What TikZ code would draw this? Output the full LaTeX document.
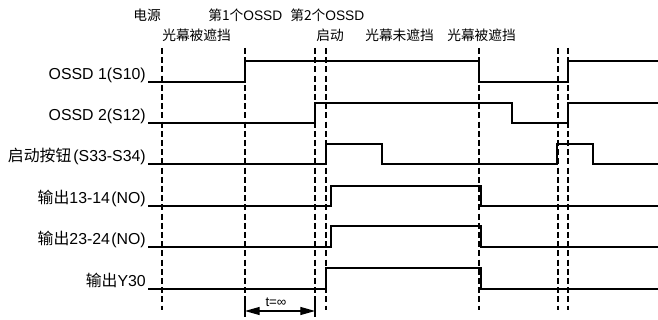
\documentclass[tikz,border=0pt]{standalone}
\usepackage{fontspec}
\setmainfont{Liberation Sans}
\newfontfamily\cjk{Noto Sans CJK SC}
\usetikzlibrary{arrows.meta}
\begin{document}
\begin{tikzpicture}[x=0.75pt,y=-0.75pt,
  sig/.style={line width=1.5pt, line join=miter},
  guide/.style={line width=0.9pt, dash pattern=on 4.5pt off 2.4pt},
  tick/.style={line width=0.9pt},
  lbl/.style={anchor=base east, inner sep=0pt, font=\fontsize{11.9}{12}\selectfont},
  toplbl/.style={anchor=west, inner sep=0pt, font=\fontsize{10.3}{11}\selectfont\cjk}]
\useasboundingbox (0,0) rectangle (658,320);

% top labels
\node[toplbl] (tA) at (133,15) {电源};
\node[toplbl] (tB) at (208,15) {第1个{\setmainfont{Liberation Sans}\rmfamily OSSD}};
\node[toplbl] (tC) at (290,15) {第2个{\setmainfont{Liberation Sans}\rmfamily OSSD}};
\node[toplbl] (tD) at (162,35) {光幕被遮挡};
\node[toplbl] (tE) at (316,35) {启动};
\node[toplbl] (tF) at (365,35) {光幕未遮挡};
\node[toplbl] (tG) at (447,35) {光幕被遮挡};

% guide lines
\foreach \x/\yb [count=\i] in {162/310,245/312,315/312,326/310,479/310,558/310,568/310}{
  \coordinate (gt\i) at (\x,48);
  \coordinate (gb\i) at (\x,\yb);
  \draw[guide] (gt\i) -- (gb\i);
}

% left labels
\node[lbl] (l1) at (146,80) {OSSD 1(S10)};
\node[lbl] (l2) at (146,121) {OSSD 2(S12)};
\node[lbl] (l3) at (146,162) {{\cjk 启动按钮}\kern1.5pt(S33-S34)};
\node[lbl] (l4) at (146,204) {{\cjk 输出}13-14\kern1pt(NO)};
\node[lbl] (l5) at (146,245) {{\cjk 输出}23-24\kern1pt(NO)};
\node[lbl] (l6) at (146,287) {{\cjk 输出}Y30};

% signals
\draw[sig] (148,82) -| (245,61) -| (479,82) -| (568,61) -- (658,61);
\draw[sig] (148,123) -| (315,103) -| (512,123) -| (568,103) -- (658,103);
\draw[sig] (148,164) -| (326,144) -| (382,164) -| (557,144) -| (593,164) -- (658,164);
\draw[sig] (148,206) -| (331,186) -| (481,206) -- (658,206);
\draw[sig] (148,247) -| (331,226) -| (481,247) -- (658,247);
\draw[sig] (148,289) -| (326,268) -| (481,289) -- (658,289);

% t = infinity
\coordinate (a1) at (245,298); \coordinate (a2) at (245,317);
\coordinate (b1) at (315,298); \coordinate (b2) at (315,317);
\draw[tick] (a1) -- (a2);
\draw[tick] (b1) -- (b2);
\coordinate (aa) at (245,311); \coordinate (bb) at (315,311);
\draw[line width=0.9pt, {Triangle[length=11pt,width=6pt]}-{Triangle[length=11pt,width=6pt]}] (aa) -- (bb);
\node[inner sep=0pt, font=\fontsize{10}{10}\selectfont] (tinf) at (276,302) {t=∞};
\end{tikzpicture}
\end{document}
